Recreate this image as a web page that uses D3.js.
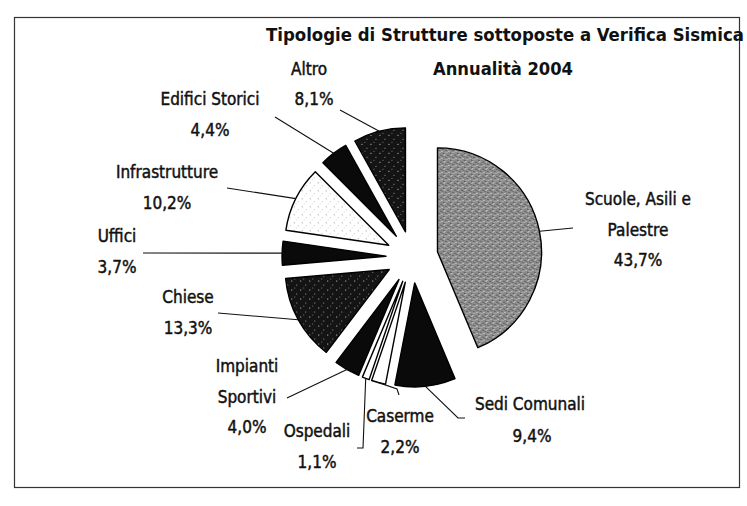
<!DOCTYPE html>
<html>
<head>
<meta charset="utf-8">
<script src="https://cdn.jsdelivr.net/npm/d3@7"></script>
<style>
  html, body { margin: 0; padding: 0; background: #fff; }
  svg { display: block; }
  text { font-family: "DejaVu Sans Condensed", "DejaVu Sans", sans-serif; fill: #111; }
</style>
</head>
<body>
<svg id="chart" width="747" height="506"></svg>
<script>
// ---- data ----
const categories = ["Scuole, Asili e Palestre", "Sedi Comunali", "Caserme", "Ospedali", "Impianti Sportivi", "Chiese", "Uffici", "Infrastrutture", "Edifici Storici", "Altro"];
const values = [43.7, 9.4, 2.2, 1.1, 4.0, 13.3, 3.7, 10.2, 4.4, 8.1];
const labelLines = [["Scuole, Asili e", "Palestre"], ["Sedi Comunali"], ["Caserme"], ["Ospedali"], ["Impianti", "Sportivi"], ["Chiese"], ["Uffici"], ["Infrastrutture"], ["Edifici Storici"], ["Altro"]];
const fills = ["url(#pGrey)", "#0a0a0a", "#ffffff", "#ffffff", "#0a0a0a", "url(#pDark)", "#0a0a0a", "url(#pLight)", "#0a0a0a", "url(#pDark)"];
const titleText = "Tipologie di Strutture sottoposte a Verifica Sismica";
const subtitleText = "Annualità 2004";

// ---- layout ----
const W = 747, H = 506;
const cx = 412, cy = 257, R = 104, explode = 26;
const lh = 30.5; // line height of labels
// label anchor: centre x, first baseline y; leader: label-side points
const labelLayout = [
  {x: 638, y: 205, leader: [[573, 228]]},
  {x: 530, y: 410, pct: [532, 442], leader: [[458, 418], [465, 418]]},
  {x: 400, y: 422, leader: [[397, 389], [399, 395]]},
  {x: 317, y: 437, leader: [[363, 448], [357, 448]]},
  {x: 247, y: 372, leader: [[287, 398]]},
  {x: 188, y: 303, leader: [[218, 313]]},
  {x: 117, y: 242, leader: [[143, 253]]},
  {x: 167, y: 178, leader: [[227, 188]]},
  {x: 210, y: 105, pct: [210, 136], leader: [[275, 117]]},
  {x: 309, y: 75, pct: [314, 105], leader: [[340, 110]]}
];

const svg = d3.select("#chart");

// patterns
const defs = svg.append("defs");
function pattern(id, size, base, dots) {
  const p = defs.append("pattern").attr("id", id).attr("patternUnits", "userSpaceOnUse")
    .attr("width", size).attr("height", size);
  p.append("rect").attr("width", size).attr("height", size).attr("fill", base);
  dots.forEach(d => p.append("rect").attr("x", d[0]).attr("y", d[1]).attr("width", d[3] || 1).attr("height", d[3] || 1).attr("fill", d[2]));
}
pattern("pGrey", 7, "#8a8a8a", [[0,0,"#e0e0e0"],[3,1,"#3c3c3c"],[1,3,"#444"],[4,4,"#f0f0f0"],[2,5,"#c8c8c8"],[5,2,"#555"],[0,5,"#bbb"],[6,6,"#333"],[6,1,"#d8d8d8"],[2,2,"#a8a8a8"]]);
pattern("pDark", 9, "#141414", [[1,2,"#cfcfcf"],[6,6,"#9a9a9a"],[4,0,"#777"]]);
pattern("pLight", 8, "#ffffff", [[1,1,"#9a9a9a"],[5,4,"#bdbdbd"],[3,6,"#d0d0d0"]]);

// frame
svg.append("rect").attr("x", 14.5).attr("y", 17.5).attr("width", 725).attr("height", 470)
  .attr("fill", "none").attr("stroke", "#333").attr("stroke-width", 1.2);

// pie
const pie = d3.pie().sort(null).value(d => d)(values);
const arc = d3.arc().innerRadius(0).outerRadius(R);
const g = svg.append("g").attr("transform", `translate(${cx},${cy})`);
const dir = a => [Math.sin(a), -Math.cos(a)];

g.selectAll("path.slice").data(pie).join("path")
  .attr("class", "slice")
  .attr("d", arc)
  .attr("transform", d => {
    const m = (d.startAngle + d.endAngle) / 2, v = dir(m);
    return `translate(${v[0] * explode},${v[1] * explode})`;
  })
  .attr("fill", (d, i) => fills[i])
  .attr("stroke", "#000")
  .attr("stroke-width", 1.4)
  .attr("stroke-linejoin", "round");

// leaders
const fmt = v => d3.format(".1f")(v).replace(".", ",") + "%";
pie.forEach((d, i) => {
  const m = (d.startAngle + d.endAngle) / 2, v = dir(m);
  const start = [cx + v[0] * (R + explode), cy + v[1] * (R + explode)];
  const pts = [start].concat(labelLayout[i].leader);
  svg.append("path").attr("d", d3.line()(pts)).attr("fill", "none")
    .attr("stroke", "#111").attr("stroke-width", 1.1);
});

// labels
function label(x, y, t) {
  svg.append("text").attr("x", x).attr("y", y).attr("text-anchor", "middle")
    .attr("font-size", 17).attr("stroke", "#111").attr("stroke-width", 0.45).text(t);
}
pie.forEach((d, i) => {
  const L = labelLayout[i];
  const lines = labelLines[i];
  lines.forEach((t, k) => label(L.x, L.y + k * lh, t));
  const p = L.pct || [L.x, L.y + lines.length * lh];
  label(p[0], p[1], fmt(values[i]));
});

// title
svg.append("text").attr("x", 505).attr("y", 41).attr("text-anchor", "middle")
  .attr("font-size", 18.4).attr("font-weight", "bold").text(titleText);
svg.append("text").attr("x", 503).attr("y", 75).attr("text-anchor", "middle")
  .attr("font-size", 18.2).attr("font-weight", "bold").text(subtitleText);
</script>
</body>
</html>
